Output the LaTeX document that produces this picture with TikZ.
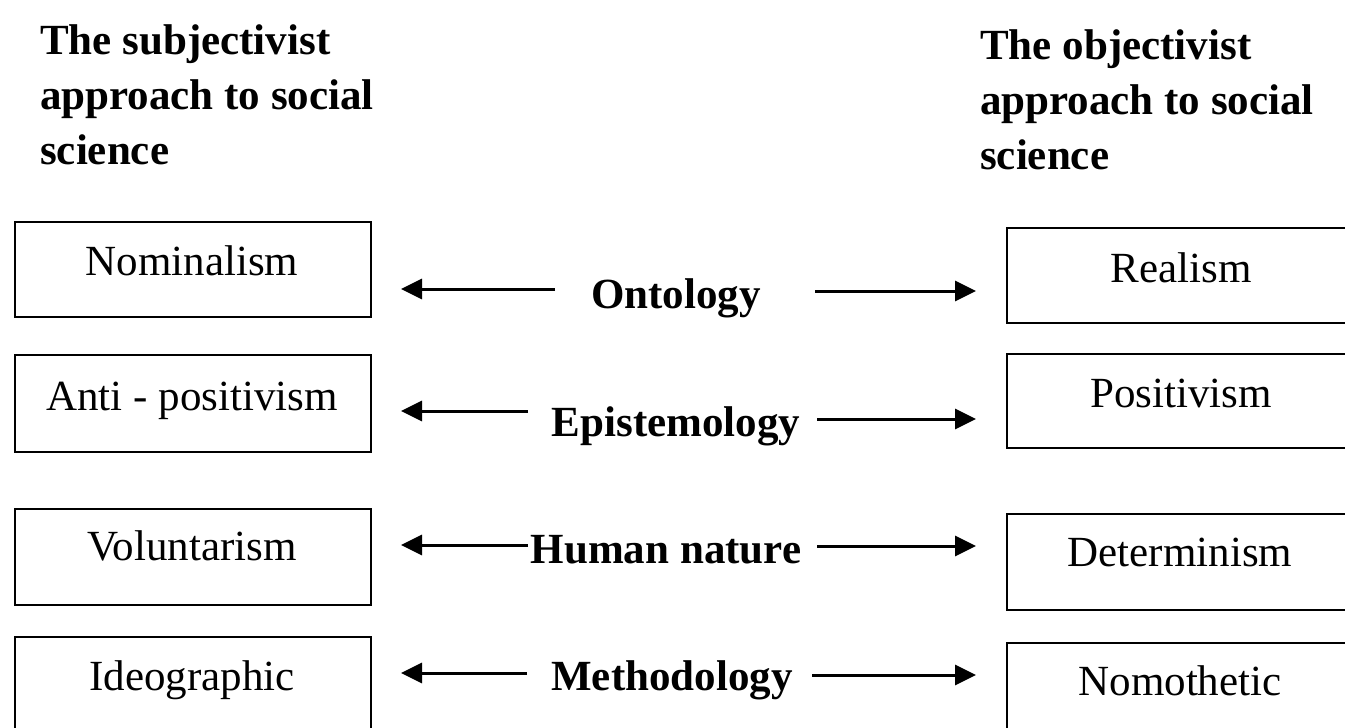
\documentclass[tikz,border=0pt]{standalone}
\usepackage{fontspec}
\setmainfont{Liberation Serif}
\usetikzlibrary{arrows.meta}
\begin{document}
\begin{tikzpicture}[x=1pt,y=-1pt,
  box/.style={draw, line width=2.2pt, inner sep=0pt, anchor=north west},
  txt/.style={inner sep=0pt, anchor=base, font=\fontsize{43}{54}\selectfont},
  lab/.style={inner sep=0pt, anchor=base, font=\fontsize{43}{54}\selectfont\bfseries},
  ttl/.style={inner sep=0pt, anchor=north west, align=left, font=\fontsize{43}{55}\selectfont\bfseries},
  arr/.style={line width=3pt, -{Triangle[length=21pt,width=20pt]}}]
\useasboundingbox (0,0) rectangle (1345,728);
% titles
\node[ttl] (T1) at (40,24) {The subjectivist\\approach to social\\science};
\node[ttl] (T2) at (980,29) {The objectivist\\approach to social\\science};
% left boxes
\node[box, minimum width=356pt, minimum height=95pt] (L1) at (14,221) {};
\node[box, minimum width=356pt, minimum height=97pt] (L2) at (14,354) {};
\node[box, minimum width=356pt, minimum height=96pt] (L3) at (14,508) {};
\node[box, minimum width=356pt, minimum height=110pt] (L4) at (14,636) {};
% right boxes
\node[box, minimum width=360pt, minimum height=95pt] (R1) at (1006,227) {};
\node[box, minimum width=360pt, minimum height=94pt] (R2) at (1006,353) {};
\node[box, minimum width=360pt, minimum height=96pt] (R3) at (1006,513) {};
\node[box, minimum width=360pt, minimum height=110pt] (R4) at (1006,642) {};
% box texts
\node[txt] (L1t) at (192,275) {Nominalism};
\node[txt] (L2t) at (192,410) {Anti - positivism};
\node[txt] (L3t) at (192,560) {Voluntarism};
\node[txt] (L4t) at (192,690) {Ideographic};
\node[txt] (R1t) at (1181,282) {Realism};
\node[txt] (R2t) at (1181,407) {Positivism};
\node[txt] (R3t) at (1180,566) {Determinism};
\node[txt] (R4t) at (1180,695) {Nomothetic};
% middle labels
\node[lab] (M1) at (676,308) {Ontology};
\node[lab] (M2) at (676,436) {Epistemology};
\node[lab] (M3) at (666,563) {Human nature};
\node[lab] (M4) at (672,690) {Methodology};
% arrow end points
\coordinate (a1s) at (555,289); \coordinate (a1e) at (401,289);
\coordinate (b1s) at (815,291); \coordinate (b1e) at (976,291);
\coordinate (a2s) at (528,411); \coordinate (a2e) at (401,411);
\coordinate (b2s) at (817,419); \coordinate (b2e) at (976,419);
\coordinate (a3s) at (528,545); \coordinate (a3e) at (401,545);
\coordinate (b3s) at (817,546); \coordinate (b3e) at (976,546);
\coordinate (a4s) at (527,673); \coordinate (a4e) at (401,673);
\coordinate (b4s) at (812,675); \coordinate (b4e) at (976,675);
\foreach \r in {1,2,3,4}{
  \draw[arr] (a\r s) -- (a\r e);
  \draw[arr] (b\r s) -- (b\r e);
}
\end{tikzpicture}
\end{document}
